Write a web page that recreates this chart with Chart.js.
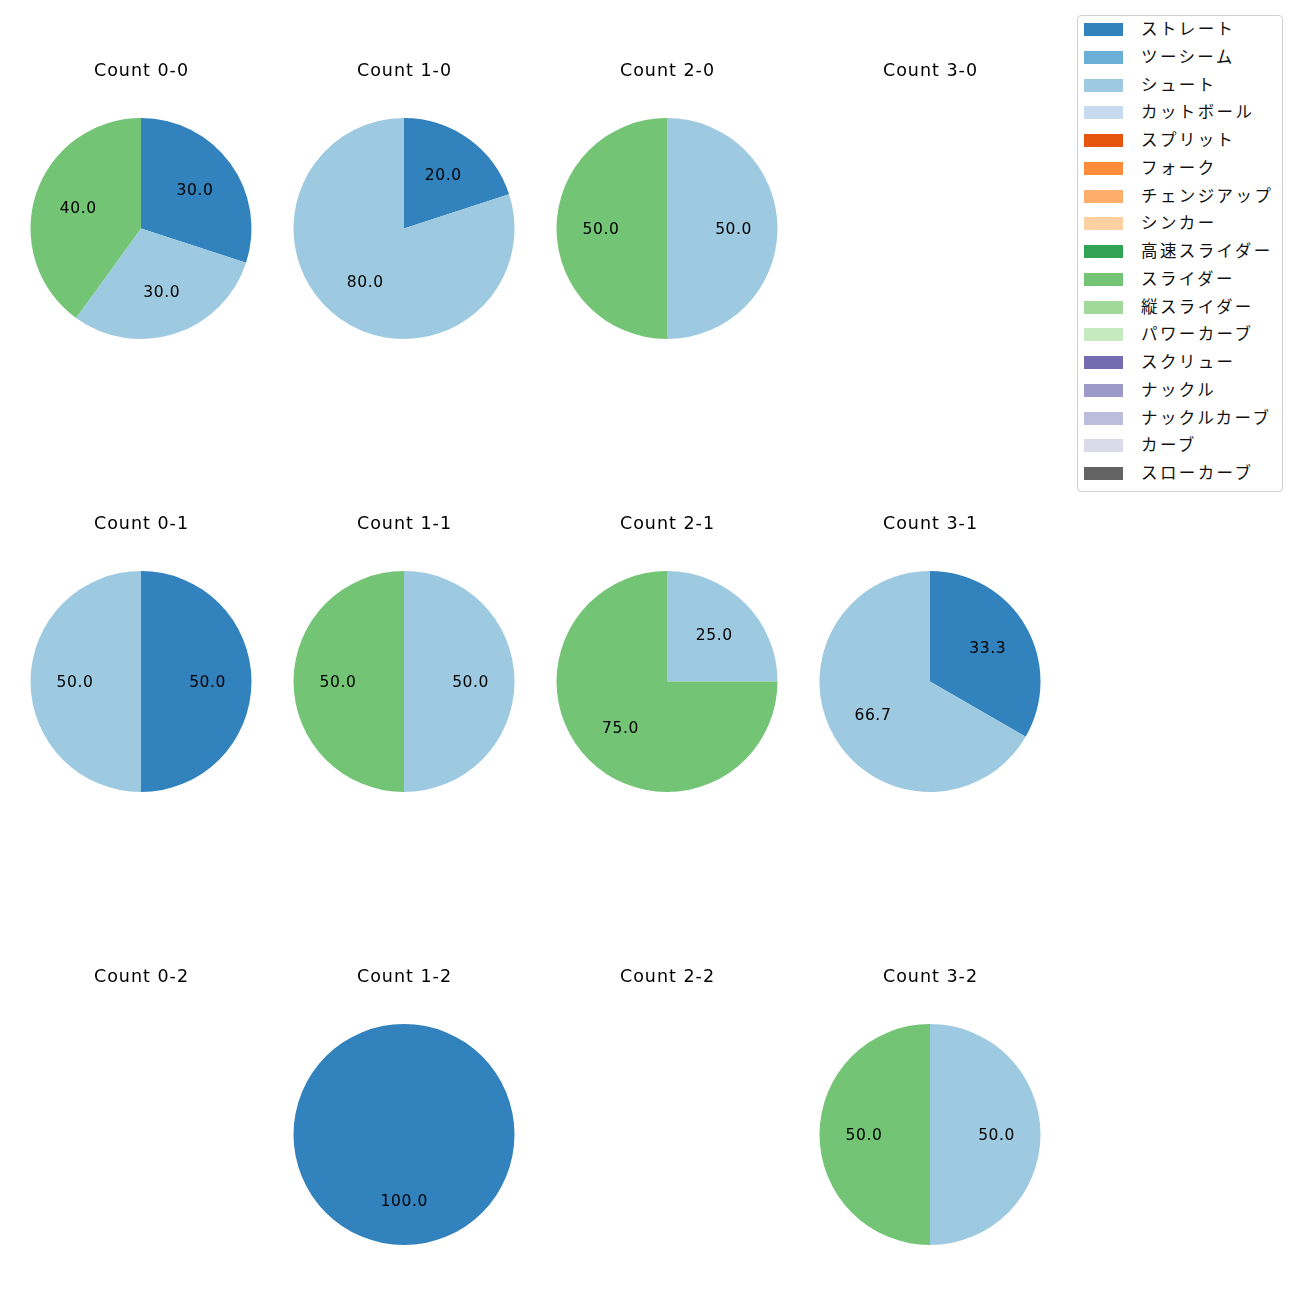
<!DOCTYPE html>
<html>
<head>
<meta charset="utf-8">
<script src="https://cdn.jsdelivr.net/npm/chart.js@4"></script>
<style>
  body { margin: 0; background: white; }
  #root { position: relative; width: 1300px; height: 1300px; font-family: "Noto Sans CJK JP", sans-serif; }
  .cell { position: absolute; }
  #legend {
    position: absolute; left: 1077px; top: 15px; width: 206px; height: 477px;
    border: 1px solid #cfcfcf; border-radius: 4px; box-sizing: border-box;
  }
  .item { position: absolute; left: 0; height: 20px; font-size: 16.5px; color: #111; }
  .swatch { position: absolute; left: 6px; top: 4px; width: 39px; height: 13px; }
  .name { position: absolute; left: 63px; top: -3px; white-space: nowrap; letter-spacing: 2.4px; }
</style>
</head>
<body>
<div id="root">
  <div id="legend"></div>
</div>
<script>
// pitch types and colours, same order everywhere
const pitchTypes = ["ストレート", "ツーシーム", "シュート", "カットボール", "スプリット", "フォーク",
  "チェンジアップ", "シンカー", "高速スライダー", "スライダー", "縦スライダー", "パワーカーブ",
  "スクリュー", "ナックル", "ナックルカーブ", "カーブ", "スローカーブ"];
const pitchColors = ["#3182bd", "#6baed6", "#9ecae1", "#c6dbef", "#e6550d", "#fd8d3c",
  "#fdae6b", "#fdd0a2", "#31a354", "#74c476", "#a1d99b", "#c7e9c0",
  "#756bb1", "#9e9ac8", "#bcbddc", "#dadaeb", "#636363"];

// pitch counts per ball-strike count (ストレート, シュート, スライダー used)
const count00 = [3, 0, 3, 0, 0, 0, 0, 0, 0, 4, 0, 0, 0, 0, 0, 0, 0];
const count10 = [1, 0, 4, 0, 0, 0, 0, 0, 0, 0, 0, 0, 0, 0, 0, 0, 0];
const count20 = [0, 0, 1, 0, 0, 0, 0, 0, 0, 1, 0, 0, 0, 0, 0, 0, 0];
const count30 = [];
const count01 = [1, 0, 1, 0, 0, 0, 0, 0, 0, 0, 0, 0, 0, 0, 0, 0, 0];
const count11 = [0, 0, 1, 0, 0, 0, 0, 0, 0, 1, 0, 0, 0, 0, 0, 0, 0];
const count21 = [0, 0, 1, 0, 0, 0, 0, 0, 0, 3, 0, 0, 0, 0, 0, 0, 0];
const count31 = [1, 0, 2, 0, 0, 0, 0, 0, 0, 0, 0, 0, 0, 0, 0, 0, 0];
const count02 = [];
const count12 = [1, 0, 0, 0, 0, 0, 0, 0, 0, 0, 0, 0, 0, 0, 0, 0, 0];
const count22 = [];
const count32 = [0, 0, 1, 0, 0, 0, 0, 0, 0, 1, 0, 0, 0, 0, 0, 0, 0];

const cells = [
  ["Count 0-0", count00], ["Count 1-0", count10], ["Count 2-0", count20], ["Count 3-0", count30],
  ["Count 0-1", count01], ["Count 1-1", count11], ["Count 2-1", count21], ["Count 3-1", count31],
  ["Count 0-2", count02], ["Count 1-2", count12], ["Count 2-2", count22], ["Count 3-2", count32],
];

const colX = [141, 404, 667, 930];
const rowY = [229, 682, 1135];

// centred text with tracking; the trailing spacing is taken off so it stays centred
function spacedText(ctx, text, x, y, spacing) {
  ctx.letterSpacing = spacing + "px";
  const w = ctx.measureText(text).width - spacing;
  ctx.textAlign = "left";
  ctx.fillText(text, x - w / 2, y);
}

// title + percentage labels
const piePlugin = {
  id: "pieText",
  afterDraw(chart, args, opts) {
    const ctx = chart.ctx;
    ctx.save();
    ctx.fillStyle = "#000";
    ctx.textBaseline = "middle";
    ctx.font = '17.5px "DejaVu Sans"';
    spacedText(ctx, opts.title, chart.width / 2, 22, 1.0);
    const meta = chart.getDatasetMeta(0);
    const data = chart.data.datasets[0].data;
    const total = data.reduce((a, b) => a + b, 0);
    ctx.font = '15.5px "DejaVu Sans"';
    meta.data.forEach((arc, i) => {
      if (!data[i]) return;
      const p = arc.getProps(["x", "y", "startAngle", "endAngle", "outerRadius"], true);
      const mid = (p.startAngle + p.endAngle) / 2;
      const r = p.outerRadius * 0.6;
      spacedText(ctx, (data[i] / total * 100).toFixed(1), p.x + Math.cos(mid) * r, p.y + Math.sin(mid) * r + 1, 0.6);
    });
    ctx.restore();
  }
};

const root = document.getElementById("root");
cells.forEach(([title, values], k) => {
  const cx = colX[k % 4], cy = rowY[Math.floor(k / 4)];
  const div = document.createElement("div");
  div.className = "cell";
  div.style.left = (cx - 130) + "px";
  div.style.top = (cy - 180) + "px";
  const canvas = document.createElement("canvas");
  canvas.width = 260;
  canvas.height = 300;
  div.appendChild(canvas);
  root.appendChild(div);
  new Chart(canvas, {
    type: "pie",
    data: {
      labels: pitchTypes,
      datasets: [{ data: values, backgroundColor: pitchColors, borderWidth: 0 }]
    },
    options: {
      responsive: false,
      animation: false,
      layout: { padding: { top: 69, bottom: 10, left: 19, right: 19 } },
      plugins: { legend: { display: false }, tooltip: { enabled: false }, pieText: { title } }
    },
    plugins: [piePlugin]
  });
});

const legend = document.getElementById("legend");
pitchTypes.forEach((name, i) => {
  const item = document.createElement("div");
  item.className = "item";
  item.style.top = (3 + i * 27.75) + "px";
  item.innerHTML = '<span class="swatch" style="background:' + pitchColors[i] + '"></span><span class="name">' + name + '</span>';
  legend.appendChild(item);
});
</script>
</body>
</html>
